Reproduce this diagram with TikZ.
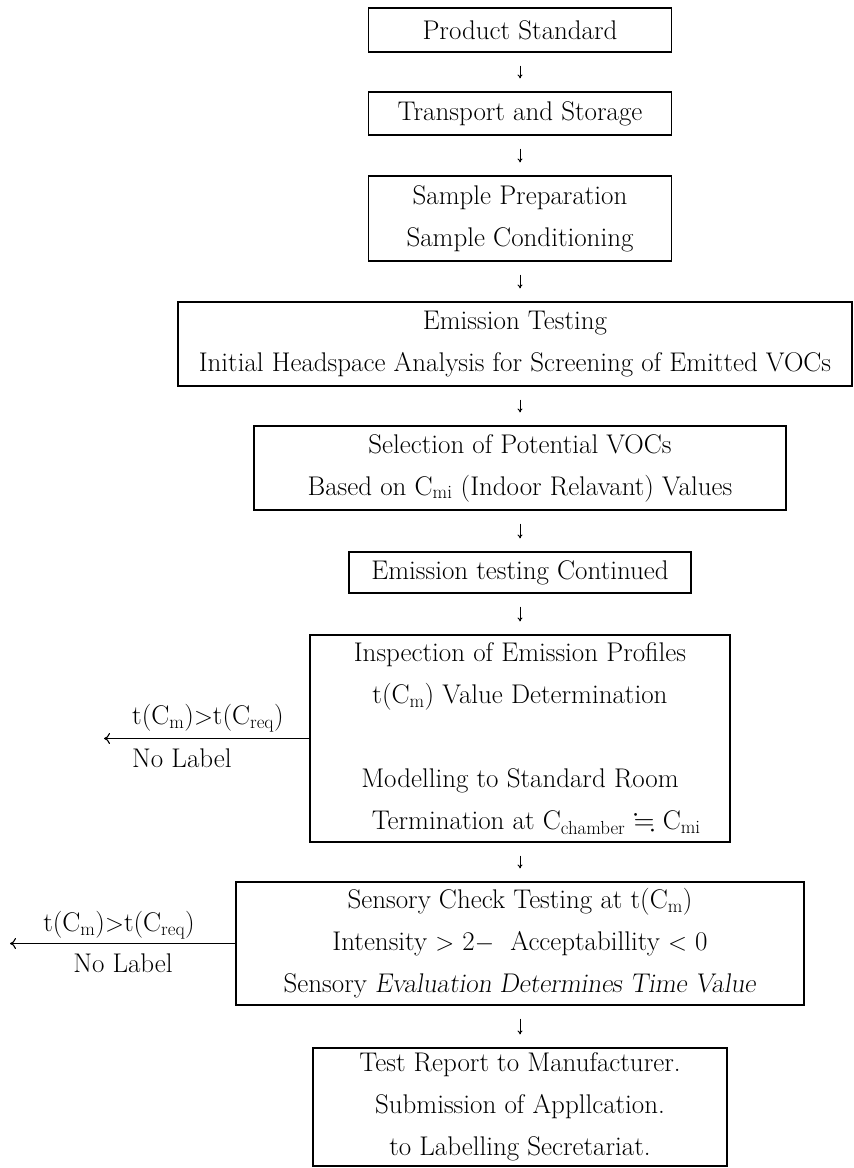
\documentclass[tikz,border=0pt]{standalone}
\usepackage{amsmath}
\usepackage{amssymb}
\usepackage{tikz}
\usetikzlibrary{arrows.meta, positioning, calc}

\newcommand{\subC}[1]{C\textsubscript{#1}}

\begin{document}
\begin{tikzpicture}[x=1pt, y=-1pt,
  every node/.style={font=\fontsize{27}{42}\selectfont},
  box/.style={draw, line width=1.1pt, align=center, inner sep=0pt},
  lbl/.style={inner sep=0pt},
  flow/.style={-{To[length=4pt,width=5pt]}, line width=0.9pt, shorten <=13pt, shorten >=13pt},
  reject/.style={-{To[length=6pt,width=11pt]}, line width=1.1pt}]
\useasboundingbox (0,0) rectangle (854,1168);

% Boxes of the procedure
\node[box, minimum width=303pt, minimum height=44pt] (prod) at (520,30) {Product Standard};
\node[box, minimum width=303pt, minimum height=43pt] (trans) at (520,113.5) {Transport and Storage};
\node[box, minimum width=303pt, minimum height=85pt] (prep) at (520,218.5) {Sample Preparation\\Sample Conditioning};
\node[box, minimum width=674pt, minimum height=84pt] (emis) at (515,344) {Emission Testing\\Initial Headspace Analysis for Screening of Emitted VOCs};
\node[box, minimum width=532pt, minimum height=84pt] (sel) at (520,468) {Selection of Potential VOCs\\Based on \subC{mi} (Indoor Relavant) Values};
\node[box, minimum width=342pt, minimum height=41pt] (cont) at (520,572.5) {Emission testing Continued};
\node[box, minimum width=420pt, minimum height=207pt] (insp) at (520,738.5) {Inspection of Emission Profiles\\t(\subC{m}) Value Determination\\[42pt]Modelling to Standard Room\\\hspace*{1.2em}Termination at \subC{chamber} $\fallingdotseq$ \subC{mi}};
\node[box, minimum width=568pt, minimum height=123pt] (sens) at (520,943.5) {Sensory Check Testing at t(\subC{m})\\Intensity $>$ 2$-$\ \ Acceptabillity $<$ 0\\Sensory \textsl{Evaluation Determines Time Value}};
\node[box, minimum width=414pt, minimum height=118pt] (rep) at (520,1107) {Test Report to Manufacturer.\\Submission of Appllcation.\\to Labelling Secretariat.};

% Down arrows
\foreach \src/\dst in {prod/trans, trans/prep, sel/cont, cont/insp, insp/sens, sens/rep}
  \draw[flow] (\src) -- (\dst);
\draw[flow] (prep.south) -- (prep.south |- emis.north);
\draw[flow] (sel.north |- emis.south) -- (sel.north);

% Rejection branches
\coordinate (out1) at (104,738.5);
\coordinate (out2) at (10,943.5);
\draw[reject] (insp.west) -- (out1);
\draw[reject] (sens.west) -- (out2);
\node[lbl, anchor=west] (cond1) at (132,718) {t(\subC{m})$>$t(\subC{req})};
\node[lbl, anchor=west] (nolab1) at (132,758) {No Label};
\node[lbl] (cond2) at (119,925) {t(\subC{m})$>$t(\subC{req})};
\node[lbl] (nolab2) at (123,963) {No Label};
\end{tikzpicture}
\end{document}
